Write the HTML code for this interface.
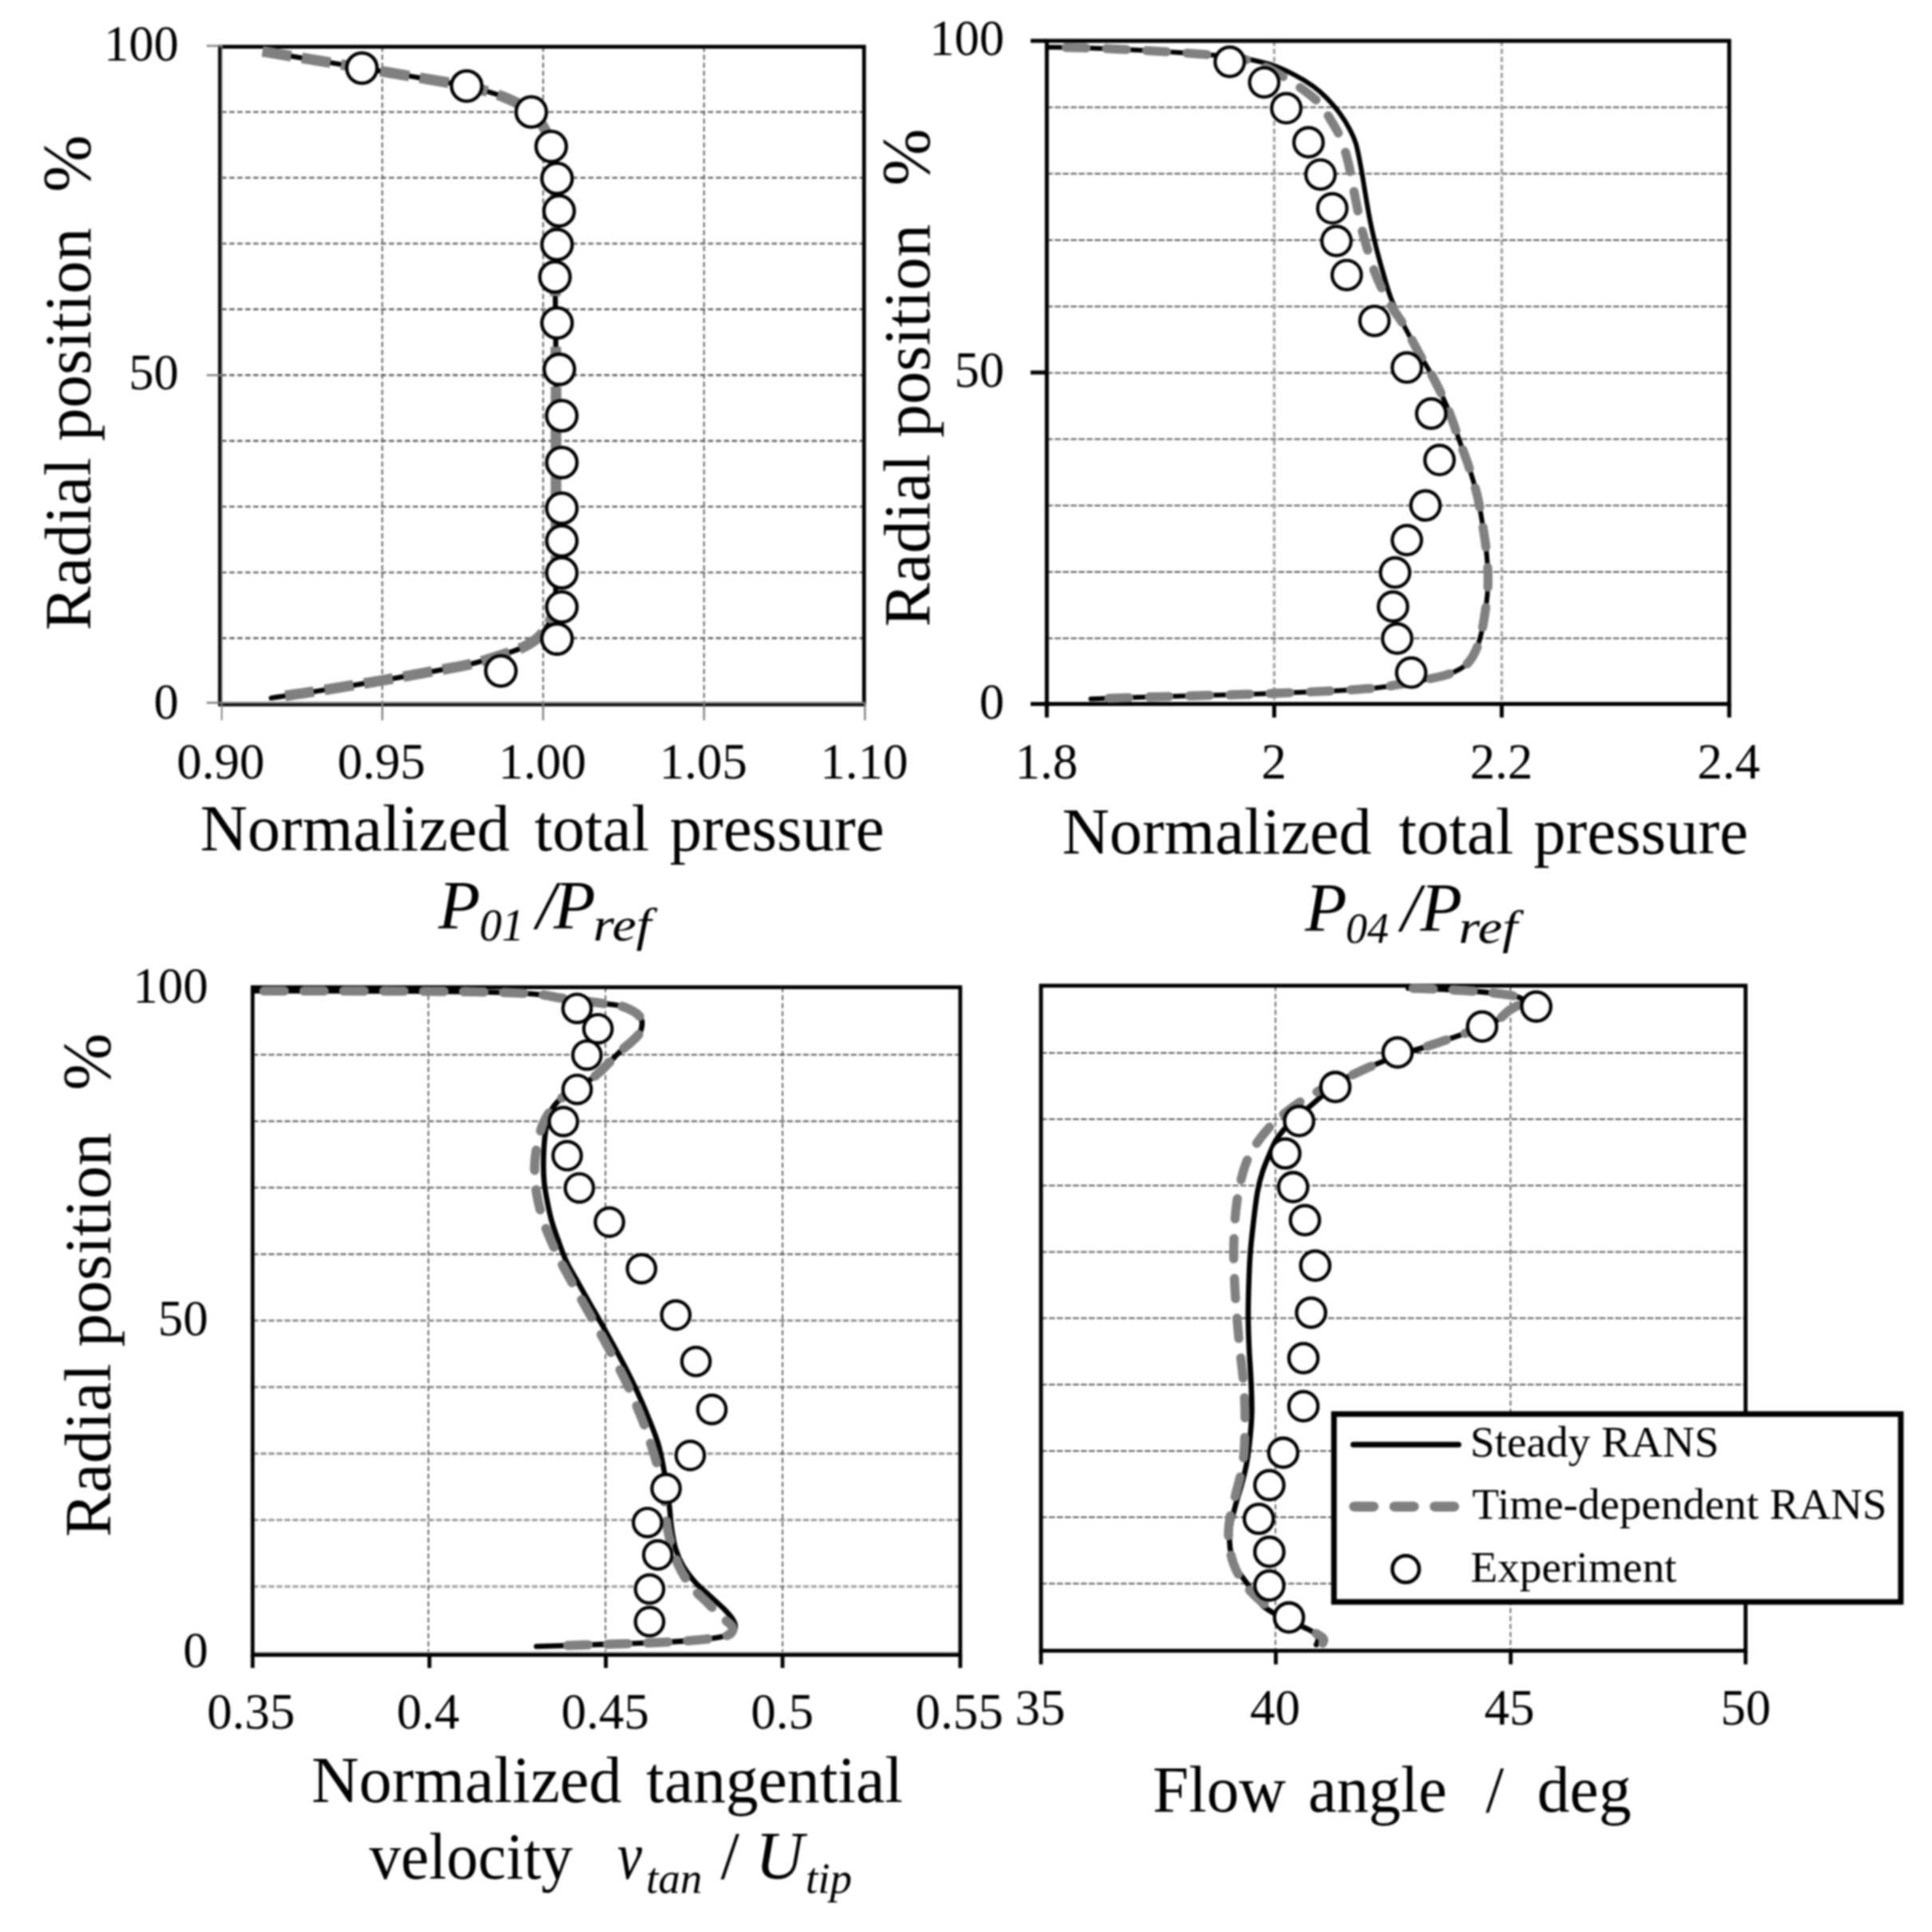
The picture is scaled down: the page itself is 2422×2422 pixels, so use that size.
<!DOCTYPE html>
<html><head><meta charset="utf-8"><title>Radial profiles</title>
<style>html,body{margin:0;padding:0;background:#fff}svg{display:block;filter:blur(0.9px)}text{white-space:pre}</style>
</head><body>
<svg width="2422" height="2422" viewBox="0 0 2422 2422" font-family="'Liberation Serif', serif" fill="#000">
<line x1="277.5" y1="800.0" x2="1083.2" y2="800.0" stroke="#5e5e5e" stroke-width="2.40" stroke-dasharray="6.5 3.5"/>
<line x1="277.5" y1="717.6" x2="1083.2" y2="717.6" stroke="#5e5e5e" stroke-width="2.40" stroke-dasharray="6.5 3.5"/>
<line x1="277.5" y1="635.1" x2="1083.2" y2="635.1" stroke="#5e5e5e" stroke-width="2.40" stroke-dasharray="6.5 3.5"/>
<line x1="277.5" y1="552.7" x2="1083.2" y2="552.7" stroke="#5e5e5e" stroke-width="2.40" stroke-dasharray="6.5 3.5"/>
<line x1="277.5" y1="470.2" x2="1083.2" y2="470.2" stroke="#5e5e5e" stroke-width="2.40" stroke-dasharray="6.5 3.5"/>
<line x1="277.5" y1="387.8" x2="1083.2" y2="387.8" stroke="#5e5e5e" stroke-width="2.40" stroke-dasharray="6.5 3.5"/>
<line x1="277.5" y1="305.4" x2="1083.2" y2="305.4" stroke="#5e5e5e" stroke-width="2.40" stroke-dasharray="6.5 3.5"/>
<line x1="277.5" y1="222.9" x2="1083.2" y2="222.9" stroke="#5e5e5e" stroke-width="2.40" stroke-dasharray="6.5 3.5"/>
<line x1="277.5" y1="140.4" x2="1083.2" y2="140.4" stroke="#5e5e5e" stroke-width="2.40" stroke-dasharray="6.5 3.5"/>
<line x1="479.2" y1="58.4" x2="479.2" y2="882.0" stroke="#626262" stroke-width="2.00" stroke-dasharray="6.5 3.5"/>
<line x1="680.9" y1="58.4" x2="680.9" y2="882.0" stroke="#626262" stroke-width="2.00" stroke-dasharray="6.5 3.5"/>
<line x1="882.6" y1="58.4" x2="882.6" y2="882.0" stroke="#626262" stroke-width="2.00" stroke-dasharray="6.5 3.5"/>
<rect x="275.8" y="58.6" width="807.4" height="824.4" fill="none" stroke="#000" stroke-width="4.8"/>
<line x1="278.0" y1="56.3" x2="278.0" y2="903.0" stroke="#808080" stroke-width="1.90"/>
<line x1="259.0" y1="881.0" x2="1084.0" y2="881.0" stroke="#808080" stroke-width="2.40"/>
<line x1="259.0" y1="57.5" x2="277.5" y2="57.5" stroke="#808080" stroke-width="2.40"/>
<line x1="259.0" y1="470.3" x2="277.5" y2="470.3" stroke="#808080" stroke-width="2.40"/>
<line x1="479.2" y1="881.0" x2="479.2" y2="903.0" stroke="#808080" stroke-width="2.40"/>
<line x1="680.9" y1="881.0" x2="680.9" y2="903.0" stroke="#808080" stroke-width="2.40"/>
<line x1="882.6" y1="881.0" x2="882.6" y2="903.0" stroke="#808080" stroke-width="2.40"/>
<line x1="1084.3" y1="881.0" x2="1084.3" y2="903.0" stroke="#808080" stroke-width="2.40"/>
<path d="M332.5,65.1C342.1,66.7 369.9,71.2 390.0,74.5C410.1,77.8 431.3,81.3 453.0,85.0C474.7,88.7 498.0,92.7 520.0,96.5C542.0,100.3 566.7,103.9 585.0,108.0C603.3,112.1 616.5,115.7 630.0,121.0C643.5,126.3 657.2,133.2 666.0,140.0C674.8,146.8 678.8,154.7 683.0,162.0C687.2,169.3 688.9,173.7 691.0,184.0C693.1,194.3 694.6,210.7 695.5,224.0C696.4,237.3 696.3,250.3 696.5,264.0C696.7,277.7 696.6,292.2 696.5,306.0C696.4,319.8 696.0,330.5 696.0,347.0C696.0,363.5 696.3,385.7 696.5,405.0C696.7,424.3 696.9,443.7 697.0,463.0C697.1,482.3 697.0,501.5 697.0,521.0C697.0,540.5 697.0,560.7 697.0,580.0C697.0,599.3 697.0,617.0 697.0,637.0C697.0,657.0 697.1,682.0 697.0,700.0C696.9,718.0 697.0,734.0 696.5,745.0C696.0,756.0 695.6,759.5 694.0,766.0C692.4,772.5 690.1,778.3 686.7,784.0C683.3,789.7 679.3,795.2 673.7,800.0C668.1,804.8 662.0,808.7 653.0,812.7C644.0,816.7 630.8,820.6 620.0,824.0C609.2,827.4 601.3,830.0 588.0,833.0C574.7,836.0 558.2,838.7 540.0,842.0C521.8,845.3 502.3,849.0 479.0,853.0C455.7,857.0 423.2,862.3 400.0,866.0C376.8,869.7 350.0,873.5 340.0,875.0" fill="none" stroke="#000" stroke-width="6.3" stroke-linecap="round" stroke-linejoin="round"/>
<path d="M329.0,64.5C339.2,66.2 369.3,71.1 390.0,74.5C410.7,77.9 431.3,81.3 453.0,85.0C474.7,88.7 498.0,92.7 520.0,96.5C542.0,100.3 566.7,103.9 585.0,108.0C603.3,112.1 616.5,115.7 630.0,121.0C643.5,126.3 657.2,133.2 666.0,140.0C674.8,146.8 678.8,154.7 683.0,162.0C687.2,169.3 688.9,173.7 691.0,184.0C693.1,194.3 694.6,210.7 695.5,224.0C696.4,237.3 696.3,250.3 696.5,264.0C696.7,277.7 696.6,292.2 696.5,306.0C696.4,319.8 696.0,330.5 696.0,347.0C696.0,363.5 696.3,385.7 696.5,405.0C696.7,424.3 696.9,443.7 697.0,463.0C697.1,482.3 697.0,501.5 697.0,521.0C697.0,540.5 697.0,570.2 697.0,580.0" fill="none" stroke="#808080" stroke-width="13.3" stroke-linecap="butt" stroke-linejoin="round" stroke-dasharray="36.5 13.5" stroke-dashoffset="0.0"/>
<path d="M357.5,872.2C364.6,871.2 379.8,869.2 400.0,866.0C420.2,862.8 455.7,857.0 479.0,853.0C502.3,849.0 521.8,845.3 540.0,842.0C558.2,838.7 574.7,836.0 588.0,833.0C601.3,830.0 609.2,827.4 620.0,824.0C630.8,820.6 644.0,816.7 653.0,812.7C662.0,808.7 668.1,804.8 673.7,800.0C679.3,795.2 683.3,789.7 686.7,784.0C690.1,778.3 692.4,772.5 694.0,766.0C695.6,759.5 696.0,756.0 696.5,745.0C697.0,734.0 696.9,718.0 697.0,700.0C697.1,682.0 697.0,657.0 697.0,637.0C697.0,617.0 697.0,589.5 697.0,580.0" fill="none" stroke="#808080" stroke-width="13.3" stroke-linecap="butt" stroke-linejoin="round" stroke-dasharray="36.5 13.5" stroke-dashoffset="0.0"/>
<circle cx="453.7" cy="85.3" r="19.0" fill="#fff" stroke="#000" stroke-width="4.3"/>
<circle cx="585.0" cy="107.8" r="19.0" fill="#fff" stroke="#000" stroke-width="4.3"/>
<circle cx="666.0" cy="140.4" r="19.0" fill="#fff" stroke="#000" stroke-width="4.3"/>
<circle cx="691.0" cy="183.6" r="19.0" fill="#fff" stroke="#000" stroke-width="4.3"/>
<circle cx="698.3" cy="223.7" r="19.0" fill="#fff" stroke="#000" stroke-width="4.3"/>
<circle cx="700.9" cy="264.4" r="19.0" fill="#fff" stroke="#000" stroke-width="4.3"/>
<circle cx="698.3" cy="306.6" r="19.0" fill="#fff" stroke="#000" stroke-width="4.3"/>
<circle cx="695.7" cy="347.2" r="19.0" fill="#fff" stroke="#000" stroke-width="4.3"/>
<circle cx="698.3" cy="404.9" r="19.0" fill="#fff" stroke="#000" stroke-width="4.3"/>
<circle cx="701.2" cy="463.0" r="19.0" fill="#fff" stroke="#000" stroke-width="4.3"/>
<circle cx="704.2" cy="521.2" r="19.0" fill="#fff" stroke="#000" stroke-width="4.3"/>
<circle cx="704.3" cy="579.8" r="19.0" fill="#fff" stroke="#000" stroke-width="4.3"/>
<circle cx="704.3" cy="637.2" r="19.0" fill="#fff" stroke="#000" stroke-width="4.3"/>
<circle cx="704.3" cy="678.1" r="19.0" fill="#fff" stroke="#000" stroke-width="4.3"/>
<circle cx="704.3" cy="718.2" r="19.0" fill="#fff" stroke="#000" stroke-width="4.3"/>
<circle cx="704.3" cy="760.9" r="19.0" fill="#fff" stroke="#000" stroke-width="4.3"/>
<circle cx="698.3" cy="801.0" r="19.0" fill="#fff" stroke="#000" stroke-width="4.3"/>
<circle cx="627.9" cy="841.1" r="19.0" fill="#fff" stroke="#000" stroke-width="4.3"/>
<text x="224.0" y="75.5" font-size="62.5" text-anchor="end">100</text>
<text x="224.0" y="488.3" font-size="62.5" text-anchor="end">50</text>
<text x="224.0" y="900.5" font-size="62.5" text-anchor="end">0</text>
<text x="276.5" y="975.8" font-size="63.0" text-anchor="middle">0.90</text>
<text x="478.2" y="975.8" font-size="63.0" text-anchor="middle">0.95</text>
<text x="679.9" y="975.8" font-size="63.0" text-anchor="middle">1.00</text>
<text x="881.6" y="975.8" font-size="63.0" text-anchor="middle">1.05</text>
<text x="1083.3" y="975.8" font-size="63.0" text-anchor="middle">1.10</text>
<text transform="translate(113.0,790.5) rotate(-90)" font-size="83.0" textLength="505.0" lengthAdjust="spacingAndGlyphs">Radial position</text>
<text transform="translate(113.0,241.0) rotate(-90)" font-size="86.0">%</text>
<text x="251.0" y="1066.0" font-size="81.5" text-anchor="start" textLength="388.0" lengthAdjust="spacingAndGlyphs">Normalized</text>
<text x="670.0" y="1066.0" font-size="81.5" text-anchor="start" textLength="144.0" lengthAdjust="spacingAndGlyphs">total</text>
<text x="839.5" y="1066.0" font-size="81.5" text-anchor="start" textLength="269.0" lengthAdjust="spacingAndGlyphs">pressure</text>
<text x="549.5" y="1164.3" font-size="86.0" text-anchor="start" font-style="italic">P</text>
<text x="601.0" y="1179.4" font-size="56.0" text-anchor="start" font-style="italic">01</text>
<text x="672.5" y="1164.3" font-size="86.0" text-anchor="start" font-style="italic">/</text>
<text x="694.0" y="1164.3" font-size="86.0" text-anchor="start" font-style="italic">P</text>
<text x="743.5" y="1179.4" font-size="59.0" text-anchor="start" font-style="italic" textLength="73.0" lengthAdjust="spacingAndGlyphs">ref</text>
<line x1="1312.3" y1="800.2" x2="2167.8" y2="800.2" stroke="#5a5a5a" stroke-width="2.00" stroke-dasharray="7.5 2.5"/>
<line x1="1312.3" y1="717.0" x2="2167.8" y2="717.0" stroke="#5a5a5a" stroke-width="2.00" stroke-dasharray="7.5 2.5"/>
<line x1="1312.3" y1="633.8" x2="2167.8" y2="633.8" stroke="#5a5a5a" stroke-width="2.00" stroke-dasharray="7.5 2.5"/>
<line x1="1312.3" y1="550.6" x2="2167.8" y2="550.6" stroke="#5a5a5a" stroke-width="2.00" stroke-dasharray="7.5 2.5"/>
<line x1="1312.3" y1="467.4" x2="2167.8" y2="467.4" stroke="#5a5a5a" stroke-width="2.00" stroke-dasharray="7.5 2.5"/>
<line x1="1312.3" y1="384.2" x2="2167.8" y2="384.2" stroke="#5a5a5a" stroke-width="2.00" stroke-dasharray="7.5 2.5"/>
<line x1="1312.3" y1="301.0" x2="2167.8" y2="301.0" stroke="#5a5a5a" stroke-width="2.00" stroke-dasharray="7.5 2.5"/>
<line x1="1312.3" y1="217.8" x2="2167.8" y2="217.8" stroke="#5a5a5a" stroke-width="2.00" stroke-dasharray="7.5 2.5"/>
<line x1="1312.3" y1="134.6" x2="2167.8" y2="134.6" stroke="#5a5a5a" stroke-width="2.00" stroke-dasharray="7.5 2.5"/>
<line x1="1597.4" y1="51.2" x2="1597.4" y2="882.5" stroke="#a4a4a4" stroke-width="3.30" stroke-dasharray="6.5 3.5"/>
<line x1="1882.6" y1="51.2" x2="1882.6" y2="882.5" stroke="#a4a4a4" stroke-width="3.30" stroke-dasharray="6.5 3.5"/>
<rect x="1312.3" y="51.2" width="855.5" height="831.3" fill="none" stroke="#000" stroke-width="5"/>
<line x1="1292.0" y1="51.2" x2="1312.3" y2="51.2" stroke="#000" stroke-width="5.00"/>
<line x1="1292.0" y1="467.0" x2="1312.3" y2="467.0" stroke="#000" stroke-width="5.00"/>
<line x1="1292.0" y1="882.5" x2="1312.3" y2="882.5" stroke="#000" stroke-width="5.00"/>
<line x1="1312.3" y1="882.5" x2="1312.3" y2="899.5" stroke="#000" stroke-width="5.00"/>
<line x1="1597.4" y1="882.5" x2="1597.4" y2="899.5" stroke="#000" stroke-width="5.00"/>
<line x1="1882.6" y1="882.5" x2="1882.6" y2="899.5" stroke="#000" stroke-width="5.00"/>
<line x1="2167.8" y1="882.5" x2="2167.8" y2="899.5" stroke="#000" stroke-width="5.00"/>
<path d="M1315.6,59.3C1323.0,59.4 1342.6,59.5 1360.0,60.0C1377.4,60.5 1400.0,61.5 1420.0,62.5C1440.0,63.5 1463.3,64.9 1480.0,66.0C1496.7,67.1 1509.2,68.1 1520.0,69.0C1530.8,69.9 1537.4,70.6 1545.0,71.5C1552.6,72.4 1556.8,72.5 1565.4,74.3C1574.0,76.1 1586.9,78.9 1596.4,82.1C1605.9,85.3 1614.1,89.3 1622.3,93.6C1630.5,97.8 1638.7,102.7 1645.5,107.6C1652.3,112.5 1657.6,117.1 1663.2,122.8C1668.8,128.5 1674.4,135.0 1679.2,141.6C1684.0,148.2 1688.8,155.8 1692.2,162.3C1695.7,168.8 1697.5,172.2 1699.9,180.4C1702.3,188.6 1704.5,201.1 1706.4,211.5C1708.4,221.9 1709.7,231.4 1711.6,242.6C1713.5,253.8 1715.6,267.2 1718.0,278.8C1720.4,290.4 1723.2,302.0 1725.8,312.4C1728.4,322.8 1730.6,330.5 1733.6,340.9C1736.6,351.2 1739.6,363.3 1744.0,374.5C1748.4,385.7 1754.0,396.3 1760.0,408.0C1766.0,419.7 1773.7,433.4 1780.0,444.7C1786.3,456.0 1792.2,464.6 1798.0,475.8C1803.8,487.0 1809.8,499.5 1815.0,512.0C1820.2,524.5 1824.5,538.3 1829.0,550.8C1833.5,563.3 1838.1,574.9 1842.0,587.0C1845.9,599.1 1849.6,611.2 1852.4,623.3C1855.2,635.4 1857.1,648.3 1858.9,659.5C1860.7,670.7 1862.2,680.2 1863.3,690.6C1864.4,701.0 1865.2,712.5 1865.4,721.6C1865.6,730.7 1865.2,737.3 1864.6,745.0C1864.0,752.7 1862.9,760.1 1861.7,768.0C1860.5,775.9 1859.3,784.3 1857.4,792.2C1855.5,800.1 1853.2,808.6 1850.1,815.4C1847.0,822.2 1843.9,828.0 1838.6,832.8C1833.3,837.6 1826.5,841.2 1818.3,844.3C1810.1,847.4 1801.4,849.1 1789.3,851.6C1777.2,854.1 1757.9,857.5 1745.8,859.4C1733.7,861.3 1731.3,862.0 1716.8,863.2C1702.3,864.4 1678.1,865.7 1658.8,866.7C1639.5,867.7 1620.2,868.3 1600.9,869.0C1581.6,869.7 1567.1,870.3 1542.9,871.0C1518.8,871.7 1485.2,872.4 1456.0,873.3C1426.8,874.2 1382.2,875.7 1367.5,876.2" fill="none" stroke="#000" stroke-width="6.0" stroke-linecap="round" stroke-linejoin="round"/>
<path d="M1315.6,59.3C1323.0,59.4 1342.6,59.5 1360.0,60.0C1377.4,60.5 1400.0,61.5 1420.0,62.5C1440.0,63.5 1463.3,64.9 1480.0,66.0C1496.7,67.1 1509.2,68.1 1520.0,69.0C1530.8,69.9 1537.5,70.4 1545.0,71.5C1552.5,72.6 1557.5,73.3 1565.0,75.6C1572.5,77.9 1583.0,82.3 1590.0,85.5C1597.0,88.7 1600.5,91.2 1606.8,95.0C1613.0,98.8 1619.7,102.4 1627.5,108.0C1635.3,113.6 1646.7,121.8 1653.4,128.7C1660.1,135.6 1663.1,142.1 1667.6,149.4C1672.1,156.7 1676.8,164.1 1680.5,172.7C1684.2,181.3 1687.2,192.1 1689.6,201.2C1692.0,210.2 1693.1,218.4 1694.8,227.0C1696.5,235.6 1698.1,243.4 1700.0,252.9C1701.9,262.4 1704.0,274.1 1706.4,284.0C1708.8,293.9 1711.4,302.9 1714.2,312.4C1717.0,321.9 1720.1,332.3 1723.3,340.9C1726.5,349.5 1729.7,356.4 1733.6,364.2C1737.5,372.0 1742.1,380.2 1746.5,387.5C1750.9,394.8 1754.4,398.5 1760.0,408.0C1765.6,417.5 1773.7,433.4 1780.0,444.7C1786.3,456.0 1792.2,464.6 1798.0,475.8C1803.8,487.0 1809.8,499.5 1815.0,512.0C1820.2,524.5 1824.5,538.3 1829.0,550.8C1833.5,563.3 1838.1,574.9 1842.0,587.0C1845.9,599.1 1849.6,611.2 1852.4,623.3C1855.2,635.4 1857.1,648.3 1858.9,659.5C1860.7,670.7 1862.2,680.2 1863.3,690.6C1864.4,701.0 1865.2,712.5 1865.4,721.6C1865.6,730.7 1865.2,737.3 1864.6,745.0C1864.0,752.7 1862.9,760.1 1861.7,768.0C1860.5,775.9 1859.3,784.3 1857.4,792.2C1855.5,800.1 1853.2,808.6 1850.1,815.4C1847.0,822.2 1843.9,828.0 1838.6,832.8C1833.3,837.6 1826.5,841.2 1818.3,844.3C1810.1,847.4 1801.4,849.1 1789.3,851.6C1777.2,854.1 1757.9,857.5 1745.8,859.4C1733.7,861.3 1731.3,862.0 1716.8,863.2C1702.3,864.4 1678.1,865.7 1658.8,866.7C1639.5,867.7 1620.2,868.3 1600.9,869.0C1581.6,869.7 1567.1,870.3 1542.9,871.0C1518.8,871.7 1482.7,872.5 1456.0,873.3C1429.3,874.1 1395.2,875.3 1383.0,875.7" fill="none" stroke="#808080" stroke-width="11.3" stroke-linecap="round" stroke-linejoin="round" stroke-dasharray="25 25.5" stroke-dashoffset="29.5"/>
<circle cx="1541.6" cy="77.5" r="18.3" fill="#fff" stroke="#000" stroke-width="4.2"/>
<circle cx="1584.8" cy="103.3" r="18.3" fill="#fff" stroke="#000" stroke-width="4.2"/>
<circle cx="1612.5" cy="135.7" r="18.3" fill="#fff" stroke="#000" stroke-width="4.2"/>
<circle cx="1640.4" cy="178.4" r="18.3" fill="#fff" stroke="#000" stroke-width="4.2"/>
<circle cx="1655.4" cy="218.8" r="18.3" fill="#fff" stroke="#000" stroke-width="4.2"/>
<circle cx="1670.2" cy="261.2" r="18.3" fill="#fff" stroke="#000" stroke-width="4.2"/>
<circle cx="1675.4" cy="302.1" r="18.3" fill="#fff" stroke="#000" stroke-width="4.2"/>
<circle cx="1688.3" cy="344.8" r="18.3" fill="#fff" stroke="#000" stroke-width="4.2"/>
<circle cx="1723.1" cy="402.3" r="18.3" fill="#fff" stroke="#000" stroke-width="4.2"/>
<circle cx="1763.7" cy="460.7" r="18.3" fill="#fff" stroke="#000" stroke-width="4.2"/>
<circle cx="1794.2" cy="518.5" r="18.3" fill="#fff" stroke="#000" stroke-width="4.2"/>
<circle cx="1804.6" cy="576.7" r="18.3" fill="#fff" stroke="#000" stroke-width="4.2"/>
<circle cx="1787.0" cy="633.6" r="18.3" fill="#fff" stroke="#000" stroke-width="4.2"/>
<circle cx="1763.7" cy="677.1" r="18.3" fill="#fff" stroke="#000" stroke-width="4.2"/>
<circle cx="1748.9" cy="717.7" r="18.3" fill="#fff" stroke="#000" stroke-width="4.2"/>
<circle cx="1746.3" cy="760.4" r="18.3" fill="#fff" stroke="#000" stroke-width="4.2"/>
<circle cx="1751.5" cy="800.5" r="18.3" fill="#fff" stroke="#000" stroke-width="4.2"/>
<circle cx="1769.1" cy="843.2" r="18.3" fill="#fff" stroke="#000" stroke-width="4.2"/>
<text x="1259.0" y="69.2" font-size="62.5" text-anchor="end">100</text>
<text x="1259.0" y="485.0" font-size="62.5" text-anchor="end">50</text>
<text x="1259.0" y="900.5" font-size="62.5" text-anchor="end">0</text>
<text x="1311.8" y="975.8" font-size="63.0" text-anchor="middle">1.8</text>
<text x="1596.9" y="975.8" font-size="63.0" text-anchor="middle">2</text>
<text x="1882.1" y="975.8" font-size="63.0" text-anchor="middle">2.2</text>
<text x="2167.2" y="975.8" font-size="63.0" text-anchor="middle">2.4</text>
<text transform="translate(1165.0,786.0) rotate(-90)" font-size="83.0" textLength="505.0" lengthAdjust="spacingAndGlyphs">Radial position</text>
<text transform="translate(1165.0,233.0) rotate(-90)" font-size="86.0">%</text>
<text x="1331.5" y="1069.5" font-size="82.0" text-anchor="start" textLength="388.0" lengthAdjust="spacingAndGlyphs">Normalized</text>
<text x="1753.5" y="1069.5" font-size="82.0" text-anchor="start" textLength="144.0" lengthAdjust="spacingAndGlyphs">total</text>
<text x="1922.5" y="1069.5" font-size="82.0" text-anchor="start" textLength="269.0" lengthAdjust="spacingAndGlyphs">pressure</text>
<text x="1636.0" y="1167.3" font-size="86.0" text-anchor="start" font-style="italic">P</text>
<text x="1687.0" y="1182.4" font-size="54.0" text-anchor="start" font-style="italic">04</text>
<text x="1756.5" y="1167.3" font-size="86.0" text-anchor="start" font-style="italic">/</text>
<text x="1780.5" y="1167.3" font-size="86.0" text-anchor="start" font-style="italic">P</text>
<text x="1828.5" y="1182.4" font-size="59.0" text-anchor="start" font-style="italic" textLength="74.0" lengthAdjust="spacingAndGlyphs">ref</text>
<line x1="316.7" y1="1988.9" x2="1203.8" y2="1988.9" stroke="#a4a4a4" stroke-width="3.40" stroke-dasharray="7.2 2.8"/>
<line x1="316.7" y1="1905.5" x2="1203.8" y2="1905.5" stroke="#9a9a9a" stroke-width="3.21" stroke-dasharray="7.2 2.8"/>
<line x1="316.7" y1="1822.2" x2="1203.8" y2="1822.2" stroke="#919191" stroke-width="3.02" stroke-dasharray="7.2 2.8"/>
<line x1="316.7" y1="1738.9" x2="1203.8" y2="1738.9" stroke="#878787" stroke-width="2.84" stroke-dasharray="7.2 2.8"/>
<line x1="316.7" y1="1655.5" x2="1203.8" y2="1655.5" stroke="#7e7e7e" stroke-width="2.65" stroke-dasharray="7.2 2.8"/>
<line x1="316.7" y1="1572.2" x2="1203.8" y2="1572.2" stroke="#747474" stroke-width="2.46" stroke-dasharray="7.2 2.8"/>
<line x1="316.7" y1="1488.9" x2="1203.8" y2="1488.9" stroke="#6b6b6b" stroke-width="2.27" stroke-dasharray="7.2 2.8"/>
<line x1="316.7" y1="1405.6" x2="1203.8" y2="1405.6" stroke="#616161" stroke-width="2.09" stroke-dasharray="7.2 2.8"/>
<line x1="316.7" y1="1322.2" x2="1203.8" y2="1322.2" stroke="#585858" stroke-width="1.90" stroke-dasharray="7.2 2.8"/>
<line x1="537.0" y1="1237.6" x2="537.0" y2="2074.6" stroke="#585858" stroke-width="1.80" stroke-dasharray="6.5 3.5"/>
<line x1="759.0" y1="1237.6" x2="759.0" y2="2074.6" stroke="#585858" stroke-width="1.80" stroke-dasharray="6.5 3.5"/>
<line x1="981.0" y1="1237.6" x2="981.0" y2="2074.6" stroke="#585858" stroke-width="1.80" stroke-dasharray="6.5 3.5"/>
<line x1="316.7" y1="2071.5" x2="1203.8" y2="2071.5" stroke="#bbb" stroke-width="2.20"/>
<rect x="316.7" y="1237.6" width="887.1" height="837.0" fill="none" stroke="#000" stroke-width="4.8"/>
<line x1="316.7" y1="2074.6" x2="316.7" y2="2091.0" stroke="#000" stroke-width="4.80"/>
<line x1="538.3" y1="2074.6" x2="538.3" y2="2091.0" stroke="#000" stroke-width="4.80"/>
<line x1="759.5" y1="2074.6" x2="759.5" y2="2091.0" stroke="#000" stroke-width="4.80"/>
<line x1="981.0" y1="2074.6" x2="981.0" y2="2091.0" stroke="#000" stroke-width="4.80"/>
<line x1="1203.8" y1="2074.6" x2="1203.8" y2="2091.0" stroke="#000" stroke-width="4.80"/>
<path d="M319.0,1242.3C332.5,1242.3 369.8,1242.3 400.0,1242.3C430.2,1242.3 466.7,1242.3 500.0,1242.5C533.3,1242.7 572.0,1242.9 600.0,1243.5C628.0,1244.1 650.7,1244.7 668.0,1246.0C685.3,1247.3 691.2,1249.4 704.0,1251.2C716.8,1253.0 733.0,1255.0 745.0,1256.6C757.0,1258.2 768.1,1259.0 776.0,1260.7C783.9,1262.4 788.2,1264.7 792.5,1266.9C796.8,1269.2 799.8,1271.6 801.9,1274.2C804.0,1276.8 805.0,1279.0 805.0,1282.5C805.0,1286.0 804.0,1291.1 801.9,1294.9C799.8,1298.7 796.5,1301.4 792.5,1305.2C788.5,1309.0 782.8,1313.2 778.0,1317.7C773.2,1322.2 768.1,1327.7 763.6,1332.2C759.1,1336.7 754.9,1341.1 751.1,1344.6C747.3,1348.0 745.9,1349.3 740.7,1352.9C735.5,1356.5 726.9,1361.3 720.0,1366.0C713.1,1370.7 704.5,1375.8 699.3,1380.8C694.1,1385.8 691.5,1390.3 689.0,1396.0C686.5,1401.7 685.7,1408.0 684.5,1415.0C683.3,1422.0 682.5,1430.2 682.0,1437.7C681.5,1445.2 681.3,1452.7 681.3,1460.0C681.3,1467.3 681.5,1474.5 682.2,1481.7C682.9,1488.9 684.0,1495.2 685.5,1503.0C687.0,1510.8 688.8,1520.3 691.1,1528.8C693.4,1537.2 696.3,1545.1 699.4,1553.7C702.5,1562.3 705.9,1572.3 709.7,1580.6C713.5,1588.9 717.6,1595.2 722.2,1603.4C726.8,1611.6 730.8,1618.7 737.2,1630.0C743.6,1641.3 753.2,1657.8 760.5,1671.0C767.8,1684.2 774.7,1696.6 781.2,1709.0C787.7,1721.4 793.7,1733.4 799.3,1745.6C804.9,1757.8 810.5,1771.1 814.8,1781.9C819.1,1792.7 822.4,1800.8 825.2,1810.3C828.0,1819.8 829.8,1829.5 831.6,1838.8C833.4,1848.1 834.7,1857.4 836.0,1866.0C837.3,1874.6 838.4,1882.2 839.4,1890.6C840.4,1899.0 840.7,1907.8 842.0,1916.4C843.3,1925.0 844.8,1934.5 847.2,1942.3C849.6,1950.1 852.1,1956.1 856.2,1963.0C860.3,1969.9 866.1,1977.4 871.7,1983.7C877.3,1990.0 883.9,1995.0 889.9,2000.6C895.9,2006.2 903.0,2012.2 908.0,2017.4C913.0,2022.6 917.4,2027.5 919.6,2031.6C921.8,2035.7 922.3,2039.0 921.2,2042.0C920.1,2045.0 919.2,2047.5 913.1,2049.7C907.0,2051.8 898.1,2053.4 884.7,2054.9C871.3,2056.4 854.5,2057.7 832.9,2058.8C811.3,2059.9 782.0,2060.5 755.3,2061.4C728.6,2062.3 686.3,2063.6 672.5,2064.0" fill="none" stroke="#000" stroke-width="6.6" stroke-linecap="round" stroke-linejoin="round"/>
<path d="M319.0,1242.3C332.5,1242.3 369.8,1242.3 400.0,1242.3C430.2,1242.3 466.7,1242.3 500.0,1242.5C533.3,1242.7 572.0,1242.9 600.0,1243.5C628.0,1244.1 650.7,1244.7 668.0,1246.0C685.3,1247.3 691.2,1249.4 704.0,1251.2C716.8,1253.0 733.0,1255.0 745.0,1256.6C757.0,1258.2 768.1,1259.0 776.0,1260.7C783.9,1262.4 788.2,1264.7 792.5,1266.9C796.8,1269.2 799.8,1271.6 801.9,1274.2C804.0,1276.8 805.0,1279.0 805.0,1282.5C805.0,1286.0 804.0,1291.1 801.9,1294.9C799.8,1298.7 796.5,1301.4 792.5,1305.2C788.5,1309.0 782.8,1313.2 778.0,1317.7C773.2,1322.2 768.1,1327.7 763.6,1332.2C759.1,1336.7 754.9,1341.1 751.1,1344.6C747.3,1348.0 745.9,1349.3 740.7,1352.9C735.5,1356.5 726.9,1361.3 720.0,1366.0C713.1,1370.7 705.4,1374.6 699.3,1380.8C693.2,1387.0 687.2,1396.5 683.5,1403.0C679.8,1409.5 678.8,1413.8 677.0,1420.0C675.2,1426.2 673.6,1433.6 672.5,1440.0C671.4,1446.4 670.7,1452.6 670.4,1458.4C670.1,1464.2 670.2,1469.0 670.6,1475.0C671.0,1481.0 671.4,1487.9 672.5,1494.7C673.6,1501.5 675.1,1508.6 677.0,1516.0C678.9,1523.4 681.6,1532.3 684.0,1539.0C686.4,1545.7 688.2,1549.4 691.1,1556.0C694.0,1562.6 697.6,1570.8 701.4,1578.5C705.2,1586.2 709.2,1593.4 713.9,1602.0C718.6,1610.6 723.1,1618.5 729.5,1630.0C735.9,1641.5 745.2,1657.8 752.5,1671.0C759.8,1684.2 766.6,1696.6 773.0,1709.0C779.4,1721.4 785.5,1733.4 791.0,1745.6C796.5,1757.8 801.8,1771.1 806.0,1781.9C810.2,1792.7 812.9,1800.8 816.0,1810.3C819.1,1819.8 822.1,1829.5 824.5,1838.8C826.9,1848.1 828.9,1857.4 830.5,1866.0C832.1,1874.6 833.2,1882.2 834.2,1890.6C835.2,1899.0 835.3,1907.8 836.8,1916.4C838.3,1925.0 840.7,1934.0 843.3,1942.3C845.9,1950.6 848.4,1958.2 852.3,1966.0C856.2,1973.8 861.2,1982.1 866.6,1988.9C872.0,1995.7 878.7,2001.0 884.7,2007.0C890.7,2013.0 897.4,2020.0 902.8,2025.2C908.2,2030.4 914.5,2034.7 917.0,2038.0C919.5,2041.3 919.2,2042.9 918.0,2045.0C916.8,2047.1 915.5,2049.2 910.0,2050.8C904.5,2052.5 897.6,2053.6 884.7,2054.9C871.9,2056.2 854.5,2057.7 832.9,2058.8C811.3,2059.9 779.4,2060.6 755.3,2061.4C731.1,2062.2 699.2,2063.2 688.0,2063.5" fill="none" stroke="#808080" stroke-width="11.6" stroke-linecap="round" stroke-linejoin="round" stroke-dasharray="25.5 24.5" stroke-dashoffset="38.0"/>
<circle cx="723.4" cy="1264.2" r="17.7" fill="#fff" stroke="#000" stroke-width="4.2"/>
<circle cx="749.6" cy="1289.7" r="17.7" fill="#fff" stroke="#000" stroke-width="4.2"/>
<circle cx="735.8" cy="1322.7" r="17.7" fill="#fff" stroke="#000" stroke-width="4.2"/>
<circle cx="723.5" cy="1365.7" r="17.7" fill="#fff" stroke="#000" stroke-width="4.2"/>
<circle cx="706.3" cy="1406.0" r="17.7" fill="#fff" stroke="#000" stroke-width="4.2"/>
<circle cx="711.0" cy="1448.8" r="17.7" fill="#fff" stroke="#000" stroke-width="4.2"/>
<circle cx="726.3" cy="1489.2" r="17.7" fill="#fff" stroke="#000" stroke-width="4.2"/>
<circle cx="764.0" cy="1532.1" r="17.7" fill="#fff" stroke="#000" stroke-width="4.2"/>
<circle cx="804.2" cy="1590.5" r="17.7" fill="#fff" stroke="#000" stroke-width="4.2"/>
<circle cx="847.2" cy="1648.6" r="17.7" fill="#fff" stroke="#000" stroke-width="4.2"/>
<circle cx="872.5" cy="1706.8" r="17.7" fill="#fff" stroke="#000" stroke-width="4.2"/>
<circle cx="892.4" cy="1766.9" r="17.7" fill="#fff" stroke="#000" stroke-width="4.2"/>
<circle cx="865.3" cy="1824.6" r="17.7" fill="#fff" stroke="#000" stroke-width="4.2"/>
<circle cx="835.0" cy="1866.0" r="17.7" fill="#fff" stroke="#000" stroke-width="4.2"/>
<circle cx="811.7" cy="1908.7" r="17.7" fill="#fff" stroke="#000" stroke-width="4.2"/>
<circle cx="824.6" cy="1949.3" r="17.7" fill="#fff" stroke="#000" stroke-width="4.2"/>
<circle cx="814.3" cy="1992.0" r="17.7" fill="#fff" stroke="#000" stroke-width="4.2"/>
<circle cx="814.3" cy="2032.9" r="17.7" fill="#fff" stroke="#000" stroke-width="4.2"/>
<text x="261.0" y="1257.3" font-size="63.0" text-anchor="end">100</text>
<text x="261.0" y="1673.8" font-size="63.0" text-anchor="end">50</text>
<text x="261.0" y="2090.3" font-size="63.0" text-anchor="end">0</text>
<text x="314.5" y="2167.0" font-size="63.0" text-anchor="middle">0.35</text>
<text x="536.5" y="2167.0" font-size="63.0" text-anchor="middle">0.4</text>
<text x="758.5" y="2167.0" font-size="63.0" text-anchor="middle">0.45</text>
<text x="980.5" y="2167.0" font-size="63.0" text-anchor="middle">0.5</text>
<text x="1202.5" y="2167.0" font-size="63.0" text-anchor="middle">0.55</text>
<text transform="translate(137.5,1927.0) rotate(-90)" font-size="83.0" textLength="507.0" lengthAdjust="spacingAndGlyphs">Radial position</text>
<text transform="translate(137.5,1367.0) rotate(-90)" font-size="86.0">%</text>
<text x="390.5" y="2259.3" font-size="82.0" text-anchor="start" textLength="389.0" lengthAdjust="spacingAndGlyphs">Normalized</text>
<text x="810.0" y="2259.3" font-size="82.0" text-anchor="start" textLength="322.0" lengthAdjust="spacingAndGlyphs">tangential</text>
<text x="463.0" y="2355.2" font-size="82.0" text-anchor="start" textLength="255.0" lengthAdjust="spacingAndGlyphs">velocity</text>
<text x="774.0" y="2355.2" font-size="84.0" text-anchor="start" font-style="italic" textLength="31.0" lengthAdjust="spacingAndGlyphs">v</text>
<text x="810.0" y="2372.8" font-size="55.0" text-anchor="start" font-style="italic">tan</text>
<text x="903.5" y="2355.2" font-size="84.0" text-anchor="start">/</text>
<text x="947.0" y="2355.2" font-size="84.0" text-anchor="start" font-style="italic">U</text>
<text x="1010.0" y="2372.8" font-size="55.0" text-anchor="start" font-style="italic">tip</text>
<line x1="1305.0" y1="1985.2" x2="2188.3" y2="1985.2" stroke="#5a5a5a" stroke-width="2.00" stroke-dasharray="7.5 2.5"/>
<line x1="1305.0" y1="1902.1" x2="2188.3" y2="1902.1" stroke="#5a5a5a" stroke-width="2.00" stroke-dasharray="7.5 2.5"/>
<line x1="1305.0" y1="1818.9" x2="2188.3" y2="1818.9" stroke="#5a5a5a" stroke-width="2.00" stroke-dasharray="7.5 2.5"/>
<line x1="1305.0" y1="1735.7" x2="2188.3" y2="1735.7" stroke="#5a5a5a" stroke-width="2.00" stroke-dasharray="7.5 2.5"/>
<line x1="1305.0" y1="1652.6" x2="2188.3" y2="1652.6" stroke="#5a5a5a" stroke-width="2.00" stroke-dasharray="7.5 2.5"/>
<line x1="1305.0" y1="1569.4" x2="2188.3" y2="1569.4" stroke="#5a5a5a" stroke-width="2.00" stroke-dasharray="7.5 2.5"/>
<line x1="1305.0" y1="1486.2" x2="2188.3" y2="1486.2" stroke="#5a5a5a" stroke-width="2.00" stroke-dasharray="7.5 2.5"/>
<line x1="1305.0" y1="1403.0" x2="2188.3" y2="1403.0" stroke="#5a5a5a" stroke-width="2.00" stroke-dasharray="7.5 2.5"/>
<line x1="1305.0" y1="1319.9" x2="2188.3" y2="1319.9" stroke="#5a5a5a" stroke-width="2.00" stroke-dasharray="7.5 2.5"/>
<line x1="1598.9" y1="1235.7" x2="1598.9" y2="2069.4" stroke="#5c5c5c" stroke-width="1.80" stroke-dasharray="6.5 3.5"/>
<line x1="1893.6" y1="1235.7" x2="1893.6" y2="2069.4" stroke="#5c5c5c" stroke-width="1.80" stroke-dasharray="6.5 3.5"/>
<rect x="1305.0" y="1235.7" width="883.3" height="833.7" fill="none" stroke="#000" stroke-width="4.9"/>
<line x1="1305.0" y1="2069.4" x2="1305.0" y2="2086.5" stroke="#000" stroke-width="4.80"/>
<line x1="1599.4" y1="2069.4" x2="1599.4" y2="2086.5" stroke="#000" stroke-width="4.80"/>
<line x1="1893.9" y1="2069.4" x2="1893.9" y2="2086.5" stroke="#000" stroke-width="4.80"/>
<line x1="2188.3" y1="2069.4" x2="2188.3" y2="2086.5" stroke="#000" stroke-width="4.80"/>
<path d="M1765.4,1238.8C1771.2,1239.0 1786.2,1239.4 1800.0,1240.0C1813.8,1240.6 1834.9,1241.6 1848.2,1242.6C1861.5,1243.6 1871.4,1244.7 1880.0,1245.8C1888.6,1246.9 1895.1,1247.7 1900.0,1249.0C1904.9,1250.3 1908.7,1251.8 1909.5,1253.5C1910.3,1255.2 1907.9,1256.8 1905.0,1259.0C1902.1,1261.2 1896.5,1263.5 1892.2,1266.5C1887.9,1269.5 1885.0,1273.8 1879.3,1277.3C1873.6,1280.8 1868.8,1283.2 1858.0,1287.5C1847.2,1291.8 1827.0,1298.9 1814.6,1303.2C1802.2,1307.5 1793.9,1310.1 1783.5,1313.5C1773.1,1316.9 1762.8,1319.6 1752.0,1323.5C1741.2,1327.4 1729.1,1332.4 1718.8,1336.8C1708.5,1341.2 1698.2,1345.8 1690.4,1349.8C1682.6,1353.8 1677.8,1356.7 1672.0,1361.0C1666.2,1365.3 1661.1,1370.6 1655.3,1375.6C1649.5,1380.6 1643.0,1386.2 1637.1,1391.2C1631.2,1396.2 1624.7,1401.2 1620.0,1405.5C1615.3,1409.8 1612.1,1413.0 1608.7,1417.0C1605.3,1421.0 1602.1,1425.2 1599.5,1429.5C1596.9,1433.8 1595.9,1436.4 1593.1,1442.9C1590.3,1449.5 1585.6,1460.2 1582.8,1468.8C1580.0,1477.4 1578.2,1483.9 1576.3,1494.7C1574.4,1505.5 1572.7,1520.6 1571.2,1533.5C1569.7,1546.4 1568.2,1559.4 1567.3,1572.3C1566.3,1585.2 1565.9,1598.1 1565.5,1611.1C1565.1,1624.0 1564.7,1636.5 1564.8,1650.0C1564.9,1663.5 1565.4,1678.4 1566.0,1691.8C1566.6,1705.2 1567.8,1717.7 1568.3,1730.6C1568.8,1743.5 1569.5,1757.8 1569.3,1769.4C1569.1,1781.1 1568.3,1790.2 1567.3,1800.5C1566.3,1810.8 1564.9,1822.5 1563.4,1831.5C1561.9,1840.5 1560.6,1845.7 1558.2,1854.8C1555.8,1863.9 1551.8,1876.4 1549.2,1885.9C1546.7,1895.4 1544.2,1904.0 1542.9,1911.7C1541.6,1919.5 1541.2,1925.9 1541.4,1932.4C1541.6,1938.9 1542.3,1944.5 1544.0,1950.6C1545.7,1956.6 1548.2,1962.7 1551.7,1968.7C1555.2,1974.7 1559.5,1979.5 1564.7,1986.8C1569.9,1994.1 1575.2,2005.7 1582.8,2012.7C1590.3,2019.7 1600.5,2024.0 1610.0,2029.0C1619.5,2034.0 1632.8,2038.8 1639.7,2042.4C1646.6,2046.0 1649.5,2048.1 1651.5,2050.5C1653.5,2052.9 1652.2,2055.1 1652.0,2057.0C1651.8,2058.9 1650.4,2061.0 1650.1,2061.8" fill="none" stroke="#000" stroke-width="6.6" stroke-linecap="round" stroke-linejoin="round"/>
<path d="M1765.4,1238.8C1771.2,1239.0 1786.2,1239.4 1800.0,1240.0C1813.8,1240.6 1834.9,1241.6 1848.2,1242.6C1861.5,1243.6 1871.4,1244.7 1880.0,1245.8C1888.6,1246.9 1895.1,1247.7 1900.0,1249.0C1904.9,1250.3 1908.7,1251.8 1909.5,1253.5C1910.3,1255.2 1907.9,1256.8 1905.0,1259.0C1902.1,1261.2 1896.5,1263.5 1892.2,1266.5C1887.9,1269.5 1885.0,1273.8 1879.3,1277.3C1873.6,1280.8 1868.8,1283.2 1858.0,1287.5C1847.2,1291.8 1827.0,1298.9 1814.6,1303.2C1802.2,1307.5 1793.9,1310.1 1783.5,1313.5C1773.1,1316.9 1762.8,1319.6 1752.0,1323.5C1741.2,1327.4 1729.1,1332.4 1718.8,1336.8C1708.5,1341.2 1698.4,1346.1 1690.4,1349.8C1682.4,1353.5 1677.3,1356.0 1671.0,1359.0C1664.7,1362.0 1660.1,1363.8 1652.7,1367.9C1645.3,1372.0 1635.0,1377.8 1626.8,1383.4C1618.6,1389.0 1610.0,1395.9 1603.5,1401.5C1597.0,1407.1 1593.2,1411.0 1588.0,1417.0C1582.8,1423.0 1576.8,1431.0 1572.5,1437.8C1568.2,1444.6 1565.1,1450.2 1562.1,1458.0C1559.1,1465.8 1556.5,1476.0 1554.6,1484.3C1552.7,1492.6 1551.6,1499.4 1550.5,1507.6C1549.4,1515.8 1548.6,1522.7 1547.9,1533.5C1547.2,1544.3 1546.6,1559.4 1546.6,1572.3C1546.6,1585.2 1547.3,1598.5 1547.9,1611.1C1548.5,1623.7 1549.3,1634.5 1550.4,1648.0C1551.5,1661.5 1553.0,1678.9 1554.3,1691.8C1555.6,1704.7 1557.2,1714.6 1558.2,1725.4C1559.2,1736.2 1559.9,1746.6 1560.3,1756.5C1560.7,1766.4 1560.9,1774.1 1560.8,1784.9C1560.7,1795.7 1560.4,1810.9 1559.5,1821.2C1558.6,1831.5 1557.3,1838.4 1555.6,1847.0C1553.9,1855.6 1551.3,1864.3 1549.2,1872.9C1547.1,1881.5 1544.2,1891.0 1542.7,1898.8C1541.2,1906.6 1540.3,1912.6 1540.1,1919.5C1539.9,1926.4 1540.3,1933.3 1541.4,1940.2C1542.5,1947.1 1544.2,1954.4 1546.6,1960.9C1549.0,1967.4 1551.7,1973.0 1555.6,1979.0C1559.5,1985.0 1564.1,1991.0 1569.9,1997.1C1575.7,2003.1 1583.1,2009.8 1590.6,2015.3C1598.1,2020.8 1606.4,2025.3 1615.0,2030.0C1623.6,2034.7 1635.0,2039.8 1642.3,2043.7C1649.5,2047.6 1655.8,2050.8 1658.5,2053.5C1661.2,2056.2 1658.2,2058.9 1658.2,2060.0" fill="none" stroke="#808080" stroke-width="11.4" stroke-linecap="round" stroke-linejoin="round" stroke-dasharray="25.5 24.5" stroke-dashoffset="44.0"/>
<circle cx="1925.9" cy="1261.8" r="18.2" fill="#fff" stroke="#000" stroke-width="4.3"/>
<circle cx="1858.0" cy="1286.9" r="18.2" fill="#fff" stroke="#000" stroke-width="4.3"/>
<circle cx="1752.0" cy="1319.4" r="18.2" fill="#fff" stroke="#000" stroke-width="4.3"/>
<circle cx="1674.0" cy="1362.7" r="18.2" fill="#fff" stroke="#000" stroke-width="4.3"/>
<circle cx="1628.6" cy="1405.4" r="18.2" fill="#fff" stroke="#000" stroke-width="4.3"/>
<circle cx="1611.3" cy="1446.0" r="18.2" fill="#fff" stroke="#000" stroke-width="4.3"/>
<circle cx="1621.1" cy="1488.2" r="18.2" fill="#fff" stroke="#000" stroke-width="4.3"/>
<circle cx="1635.9" cy="1529.6" r="18.2" fill="#fff" stroke="#000" stroke-width="4.3"/>
<circle cx="1648.8" cy="1586.6" r="18.2" fill="#fff" stroke="#000" stroke-width="4.3"/>
<circle cx="1643.6" cy="1645.6" r="18.2" fill="#fff" stroke="#000" stroke-width="4.3"/>
<circle cx="1634.0" cy="1702.6" r="18.2" fill="#fff" stroke="#000" stroke-width="4.3"/>
<circle cx="1634.0" cy="1762.9" r="18.2" fill="#fff" stroke="#000" stroke-width="4.3"/>
<circle cx="1608.7" cy="1821.2" r="18.2" fill="#fff" stroke="#000" stroke-width="4.3"/>
<circle cx="1591.3" cy="1861.8" r="18.2" fill="#fff" stroke="#000" stroke-width="4.3"/>
<circle cx="1578.1" cy="1904.0" r="18.2" fill="#fff" stroke="#000" stroke-width="4.3"/>
<circle cx="1591.3" cy="1945.4" r="18.2" fill="#fff" stroke="#000" stroke-width="4.3"/>
<circle cx="1591.3" cy="1987.6" r="18.2" fill="#fff" stroke="#000" stroke-width="4.3"/>
<circle cx="1615.9" cy="2027.7" r="18.2" fill="#fff" stroke="#000" stroke-width="4.3"/>
<text x="1304.0" y="2162.2" font-size="63.0" text-anchor="middle">35</text>
<text x="1598.4" y="2162.2" font-size="63.0" text-anchor="middle">40</text>
<text x="1892.2" y="2162.2" font-size="63.0" text-anchor="middle">45</text>
<text x="2188.5" y="2162.2" font-size="63.0" text-anchor="middle">50</text>
<text x="1445.0" y="2271.0" font-size="82.0" text-anchor="start" textLength="167.0" lengthAdjust="spacingAndGlyphs">Flow</text>
<text x="1640.0" y="2271.0" font-size="82.0" text-anchor="start" textLength="174.0" lengthAdjust="spacingAndGlyphs">angle</text>
<text x="1862.5" y="2271.0" font-size="82.0" text-anchor="start">/</text>
<text x="1927.0" y="2271.0" font-size="82.0" text-anchor="start" textLength="118.0" lengthAdjust="spacingAndGlyphs">deg</text>
<rect x="1672.3" y="1772.7" width="710.6" height="235.5" fill="#fff" stroke="#000" stroke-width="7"/>
<line x1="1696.5" y1="1811.1" x2="1828.5" y2="1811.1" stroke="#000" stroke-width="7.00" stroke-linecap="round"/>
<line x1="1697.5" y1="1888.7" x2="1823.0" y2="1888.7" stroke="#808080" stroke-width="12.50" stroke-dasharray="24.5 26" stroke-linecap="round"/>
<circle cx="1762.3" cy="1967" r="16.8" fill="#fff" stroke="#000" stroke-width="4.6"/>
<text x="1843.0" y="1825.9" font-size="55.5" text-anchor="start" textLength="312.0" lengthAdjust="spacingAndGlyphs">Steady RANS</text>
<text x="1845.5" y="1903.8" font-size="55.5" text-anchor="start" textLength="520.0" lengthAdjust="spacingAndGlyphs">Time-dependent RANS</text>
<text x="1843.5" y="1982.5" font-size="55.5" text-anchor="start" textLength="258.5" lengthAdjust="spacingAndGlyphs">Experiment</text>
</svg>
</body></html>
